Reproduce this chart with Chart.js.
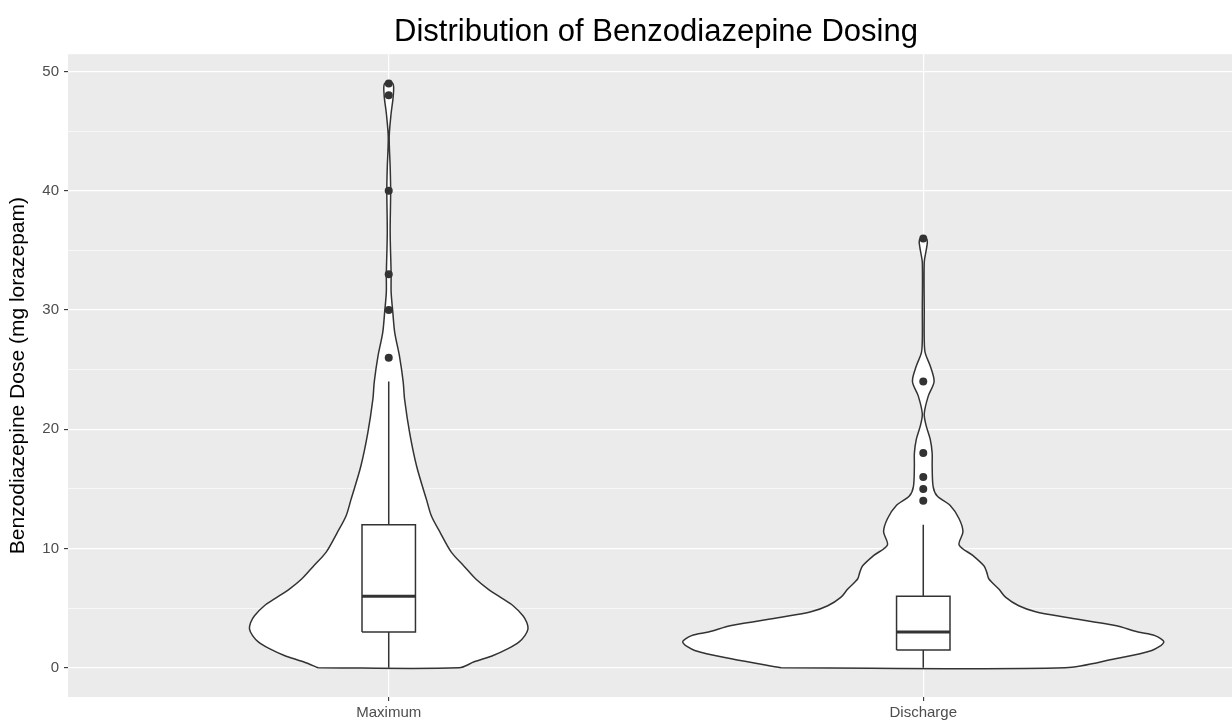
<!DOCTYPE html>
<html>
<head>
<meta charset="utf-8">
<title>Distribution of Benzodiazepine Dosing</title>
<script src="https://cdn.jsdelivr.net/npm/chart.js@4.4.1/dist/chart.umd.min.js"></script>
<style>
  html, body { margin: 0; padding: 0; background: #fff; overflow: hidden; }
  canvas { display: block; }
</style>
</head>
<body>
<canvas id="violinChart" width="1248" height="721"></canvas>
<script>
const categories = ["Maximum", "Discharge"];

// violin outlines: dose (mg) and relative density (1 = widest violin)
const maxDose = [0, 0.5, 1.03, 1.6, 2.15, 2.7, 3.26, 3.8, 4.37, 5.2, 5.77, 6.6, 7.44, 8.5, 9.7, 11.3, 12.7, 14.1, 16.9, 19.7, 22.5, 24, 26.1, 28.1, 29.8, 31.5, 33, 36.5, 40, 42, 44.5, 46.5, 48, 49];
const maxDensity = [0.293, 0.355, 0.434, 0.496, 0.541, 0.566, 0.579, 0.574, 0.558, 0.517, 0.475, 0.413, 0.362, 0.314, 0.26, 0.215, 0.178, 0.157, 0.116, 0.087, 0.066, 0.06, 0.045, 0.025, 0.017, 0.01, 0.01, 0.006, 0.008, 0.006, 0.002, 0.01, 0.019, 0.017];

const dischargeDose = [0, 0.75, 1.45, 2.15, 2.7, 3.0, 3.54, 4.24, 4.7, 5.2, 5.9, 6.6, 7.44, 8.0, 8.55, 9.4, 10.3, 11.4, 12.5, 13.6, 14.4, 15.2, 16.9, 18, 19.15, 20.3, 21.3, 22.8, 24, 25.3, 26.4, 27.5, 30, 34, 35, 35.7, 36];
const dischargeDensity = [0.591, 0.798, 0.95, 1.0, 0.963, 0.893, 0.798, 0.591, 0.467, 0.397, 0.343, 0.314, 0.273, 0.264, 0.252, 0.207, 0.149, 0.165, 0.149, 0.112, 0.058, 0.041, 0.037, 0.037, 0.029, 0.012, 0.004, 0.021, 0.045, 0.029, 0.008, 0.004, 0.004, 0.004, 0.012, 0.017, 0.012];

// box plot stats per category
const boxQ1 = [3, 1.5];
const boxMedian = [6, 3];
const boxQ3 = [12, 6];
const whiskerLow = [0, 0];
const whiskerHigh = [24, 12];
const maxOutliers = [26, 30, 33, 40, 48, 49];
const dischargeOutliers = [14, 15, 16, 18, 24, 36];

const yTicks = [0, 10, 20, 30, 40, 50];
const yMinorTicks = [5, 15, 25, 35, 45];

const violinHalf = 0.45;
const boxHalf = 0.05;
const lineColor = "#333333";

Chart.defaults.font.family = "'Liberation Sans', Arial, Helvetica, sans-serif";

function violinOutline(center, doses, dens) {
  const left = doses.map((y, k) => ({ x: center - dens[k] * violinHalf, y }));
  const right = doses.map((y, k) => ({ x: center + dens[k] * violinHalf, y })).reverse();
  return [...left, ...right, left[0]];
}

const violins = [[maxDose, maxDensity], [dischargeDose, dischargeDensity]];
const outliers = [maxOutliers, dischargeOutliers];

const datasets = [];
categories.forEach((name, i) => {
  const c = i + 1;
  datasets.push({
    label: name + " violin",
    data: violinOutline(c, violins[i][0], violins[i][1]),
    showLine: true, fill: "shape", backgroundColor: "#ffffff",
    borderColor: lineColor, borderWidth: 1.5, borderJoinStyle: "round",
    pointRadius: 0, tension: 0.3, order: 5
  });
  datasets.push({
    label: name + " whisker high",
    data: [{ x: c, y: boxQ3[i] }, { x: c, y: whiskerHigh[i] }],
    showLine: true, borderColor: lineColor, borderWidth: 1.5, pointRadius: 0, order: 4
  });
  datasets.push({
    label: name + " whisker low",
    data: [{ x: c, y: whiskerLow[i] }, { x: c, y: boxQ1[i] }],
    showLine: true, borderColor: lineColor, borderWidth: 1.5, pointRadius: 0, order: 4
  });
  datasets.push({
    label: name + " box",
    data: [
      { x: c - boxHalf, y: boxQ1[i] }, { x: c + boxHalf, y: boxQ1[i] },
      { x: c + boxHalf, y: boxQ3[i] }, { x: c - boxHalf, y: boxQ3[i] },
      { x: c - boxHalf, y: boxQ1[i] }
    ],
    showLine: true, fill: "shape", backgroundColor: "#ffffff",
    borderColor: lineColor, borderWidth: 1.5, pointRadius: 0, tension: 0, order: 3
  });
  datasets.push({
    label: name + " median",
    data: [{ x: c - boxHalf, y: boxMedian[i] }, { x: c + boxHalf, y: boxMedian[i] }],
    showLine: true, borderColor: lineColor, borderWidth: 3, pointRadius: 0, order: 2
  });
  datasets.push({
    label: name + " outliers",
    data: outliers[i].map(y => ({ x: c, y })),
    showLine: false, pointRadius: 4, pointBackgroundColor: lineColor,
    pointBorderWidth: 0, order: 1
  });
});

const panelBackground = {
  id: "panelBackground",
  beforeDraw(chart) {
    const { ctx, chartArea: a } = chart;
    ctx.save();
    ctx.fillStyle = "#EBEBEB";
    ctx.fillRect(a.left, a.top, a.right - a.left, a.bottom - a.top);
    ctx.restore();
  }
};

new Chart(document.getElementById("violinChart"), {
  type: "scatter",
  data: { datasets },
  plugins: [panelBackground],
  options: {
    responsive: false,
    animation: false,
    layout: { padding: 0 },
    plugins: {
      legend: { display: false },
      tooltip: { enabled: false },
      title: {
        display: true,
        fullSize: false,
        text: "Distribution of Benzodiazepine Dosing",
        color: "#000",
        font: { size: 31, weight: "normal", lineHeight: 1.2 },
        padding: { top: 14, bottom: 3 }
      }
    },
    scales: {
      x: {
        type: "linear",
        min: 0.4,
        max: 2.6,
        afterBuildTicks: axis => { axis.ticks = categories.map((_, i) => ({ value: i + 1 })); },
        afterFit: axis => { axis.height = 24; },
        ticks: {
          callback: (v, idx) => categories[idx],
          color: "#4D4D4D",
          font: { size: 15 },
          padding: 3,
          maxRotation: 0,
          autoSkip: false
        },
        grid: { color: "#ffffff", lineWidth: 1.2, tickLength: 4, tickColor: lineColor, tickWidth: 1.1 },
        border: { display: false }
      },
      y: {
        type: "linear",
        min: -2.45,
        max: 51.45,
        afterBuildTicks: axis => {
          axis.ticks = [...yTicks, ...yMinorTicks].sort((a, b) => a - b).map(v => ({ value: v }));
        },
        afterFit: axis => { axis.width = 68; },
        ticks: {
          callback: v => (yTicks.includes(v) ? v : ""),
          color: "#4D4D4D",
          font: { size: 15 },
          padding: 5,
          autoSkip: false
        },
        grid: {
          color: "#ffffff",
          lineWidth: ctx => (yTicks.includes(ctx.tick.value) ? 1.2 : 0.6),
          tickLength: 4,
          tickColor: ctx => (yTicks.includes(ctx.tick.value) ? lineColor : "rgba(0,0,0,0)"),
          tickWidth: 1.1
        },
        border: { display: false },
        title: {
          display: true,
          text: "Benzodiazepine Dose (mg lorazepam)",
          color: "#000",
          font: { size: 21, lineHeight: 1.2 },
          padding: { top: 6, bottom: 0 }
        }
      }
    }
  }
});
</script>
</body>
</html>
